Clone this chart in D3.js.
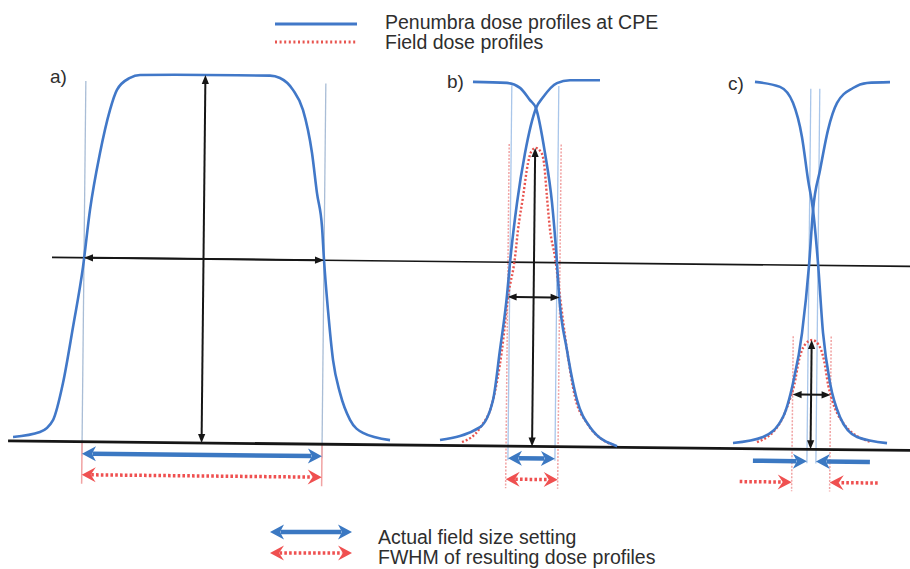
<!DOCTYPE html>
<html>
<head>
<meta charset="utf-8">
<script src="https://cdn.jsdelivr.net/npm/d3@7"></script>
<style>
  html, body { margin: 0; padding: 0; background: #fff; }
  svg { display: block; }
  text { font-family: "Liberation Sans", Arial, sans-serif; fill: #2e2e2e; }
</style>
</head>
<body>
<svg id="chart" width="910" height="569"></svg>
<script>
// Lateral position across the beam (mm) vs relative dose (% of open-field maximum)

// a) large field: both penumbrae fully separated
const profileA = [[1.49,1.1],[4.18,2.5],[5.47,5.8],[6.43,15.9],[7.37,31.1],[8.31,47.5],[8.95,63.0],
  [9.89,78.5],[10.84,90.2],[11.52,95.7],[12.81,99.0],[13.81,99.8],[20.31,100],[26.81,100],[27.81,99.4],
  [29.12,96.2],[30.14,90.8],[31.09,79.1],[31.63,68.2],[32.17,59.0],[32.40,50.1],[32.85,36.5],[33.41,22.9],
  [34.14,14.0],[35.17,6.7],[36.48,3.2],[39.19,1.3]];

// b) small field: penumbra of each jaw at CPE, and the resulting field profile
const penumbraB_rise = [[44.19,1.5],[48.18,5.1],[49.45,12.5],[50.09,26.1],[50.74,41.1],[51.00,49.8],
  [51.64,66.1],[52.39,79.7],[53.44,91.9],[54.13,94.9],[55.51,98.8],[56.81,99.6],[59.81,99.7]];
const penumbraB_fall = [[47.11,98.9],[50.51,98.7],[51.82,97.4],[52.83,94.1],[53.44,91.9],[54.39,79.7],
  [55.14,66.3],[55.70,49.9],[55.94,41.2],[56.79,26.3],[57.85,12.7],[59.18,5.4],[61.90,0.3]];
const fieldB = [[46.39,1.0],[48.18,4.9],[49.45,12.5],[50.29,26.1],[50.84,40.5],[51.50,51.4],[51.77,58.8],
  [52.23,67.7],[52.70,77.0],[52.99,80.0],[53.45,81.1],[53.99,80.0],[54.30,77.0],[54.63,67.8],[54.97,58.9],
  [55.50,51.5],[56.04,40.7],[56.79,26.3],[57.64,13.6],[58.87,6.5],[60.49,1.9],[61.70,0.6]];

// c) very small field: jaws closer than the penumbra width
const penumbraC_rise = [[73.49,1.5],[76.49,3.2],[78.46,8.7],[79.43,18.0],[80.28,31.6],[80.91,50.1],
  [81.25,65.0],[81.91,75.9],[82.66,86.8],[83.54,94.2],[85.12,98.3],[86.51,99.7],[88.81,100]];
const penumbraC_fall = [[75.31,99.7],[77.82,98.4],[79.13,94.1],[80.07,84.8],[80.72,73.2],[81.25,65.0],
  [81.80,50.7],[82.38,31.6],[83.13,18.1],[84.16,8.9],[85.89,3.5],[88.89,1.9]];
const fieldC = [[75.89,1.8],[78.17,7.1],[79.10,13.3],[79.55,17.4],[80.00,24.2],[80.55,28.3],[81.30,29.7],
  [81.95,28.4],[82.50,24.3],[82.95,17.5],[83.35,13.5],[84.47,7.3],[87.19,2.2]];

const panelLabels = ["a)", "b)", "c)"];
const fieldSetting = [[8.4, 32.4], [51.0, 55.7], [80.9, 81.8]];   // jaw (50 %) positions, mm
const fieldFWHM    = [[8.4, 32.4], [50.8, 56.0], [79.4, 83.2]];   // FWHM of the field profile, mm
const peakDose     = [100, 81.1, 29.7];                            // central-axis dose, %
const centralAxis  = [20.35, 53.4, 81.25];                         // mm

const profileLegend = ["Penumbra dose profiles at CPE", "Field dose profiles"];
const arrowLegend   = ["Actual field size setting", "FWHM of resulting dose profiles"];

// ---------------------------------------------------------------------------
const BLUE = "#4178c8", BLUE_ARROW = "#3b78c2", RED = "#e8544f", RED_ARROW = "#ef5050";
const BLACK = "#161616";

const svg = d3.select("#chart");
const x = d3.scaleLinear().domain([0, 91]).range([0, 910]);
const y = d3.scaleLinear().domain([0, 100]).range([445.6, 77.6]);
const line = d3.line().x(d => x(d[0])).y(d => y(d[1])).curve(d3.curveMonotoneX);

// Arrow with optional heads at each end (notched heads when notch > 0)
function arrow(sel, x1, y1, x2, y2, o) {
  const dx = x2 - x1, dy = y2 - y1, L = Math.hypot(dx, dy);
  const ux = dx / L, uy = dy / L;
  const back = o.len - o.notch + (o.notch ? 0.5 : -1);
  const a = o.start ? [x1 + ux * back, y1 + uy * back] : [x1, y1];
  const b = o.end ? [x2 - ux * back, y2 - uy * back] : [x2, y2];
  sel.append("line")
    .attr("x1", a[0]).attr("y1", a[1]).attr("x2", b[0]).attr("y2", b[1])
    .attr("stroke", o.color).attr("stroke-width", o.width)
    .attr("stroke-dasharray", o.dash || null);
  const head = (tx, ty, vx, vy) => {
    const px = -vy, py = vx;
    const bx = tx - vx * o.len, by = ty - vy * o.len;
    const nx = tx - vx * (o.len - o.notch), ny = ty - vy * (o.len - o.notch);
    sel.append("path")
      .attr("d", `M${tx},${ty}L${bx + px * o.half},${by + py * o.half}L${nx},${ny}L${bx - px * o.half},${by - py * o.half}Z`)
      .attr("fill", o.headColor || o.color);
  };
  if (o.end) head(x2, y2, ux, uy);
  if (o.start) head(x1, y1, -ux, -uy);
}

const blackStyle = { color: BLACK, width: 2, len: 9, half: 3.6, notch: 0 };
const blueStyle  = { color: BLUE_ARROW, width: 4.5, len: 14, half: 7.5, notch: 4 };
const redStyle   = { color: RED_ARROW, width: 3.5, dash: "2.6,2.2", len: 14, half: 7.5, notch: 5 };

// ---------------------------------------------------------------------------
// Plot area (very slightly tilted)
const plot = svg.append("g").attr("transform", "rotate(0.6,455,260)");
const y0 = y(0);
const blueRow = y0 + 12, redRow = y0 + 33;

// thin guide lines at the jaw edges and at the FWHM edges
fieldSetting.forEach((s, i) => {
  s.forEach(v => {
    plot.append("line").attr("x1", x(v)).attr("x2", x(v))
      .attr("y1", y(98)).attr("y2", y0 + 14)
      .attr("stroke", i === 0 ? "#a9bdd6" : "#a9c6ea").attr("stroke-width", 1.3);
  });
});
fieldFWHM.forEach((s, i) => {
  s.forEach(v => {
    plot.append("line").attr("x1", x(v)).attr("x2", x(v))
      .attr("y1", i === 0 ? y0 : y(peakDose[i] + 1)).attr("y2", y0 + 42)
      .attr("stroke", "#f1a3a3").attr("stroke-width", 1.5)
      .attr("stroke-dasharray", i === 0 ? null : "2,1.5");
  });
});

// reference lines: 50 % level and zero dose
plot.append("line").attr("x1", x(5.2)).attr("x2", x(92)).attr("y1", y(50)).attr("y2", y(50))
  .attr("stroke", BLACK).attr("stroke-width", 1.6);
plot.append("line").attr("x1", x(1.0)).attr("x2", x(92)).attr("y1", y0).attr("y2", y0)
  .attr("stroke", BLACK).attr("stroke-width", 2.8);

// field dose profiles (dotted red)
[fieldB, fieldC].forEach(d => {
  plot.append("path").attr("d", line(d)).attr("fill", "none")
    .attr("stroke", RED).attr("stroke-width", 2.4).attr("stroke-dasharray", "2,2");
});

// penumbra dose profiles at CPE (blue)
[profileA, penumbraB_rise, penumbraB_fall, penumbraC_rise, penumbraC_fall].forEach(d => {
  plot.append("path").attr("d", line(d)).attr("fill", "none")
    .attr("stroke", BLUE).attr("stroke-width", 2.6).attr("stroke-linejoin", "round");
});

// black arrows: central-axis dose and FWHM at half maximum
peakDose.forEach((p, i) => {
  arrow(plot, x(centralAxis[i]), y(p), x(centralAxis[i]), y0, { ...blackStyle, start: true, end: true });
  arrow(plot, x(fieldFWHM[i][0]), y(p / 2), x(fieldFWHM[i][1]), y(p / 2), { ...blackStyle, start: true, end: true });
});

// field size setting (blue) and FWHM (red) below the axis
const inward = 5.4; // arrow length (mm) when the field is too small for a double arrow
fieldSetting.forEach((s, i) => {
  if (i < 2) {
    arrow(plot, x(s[0]), blueRow, x(s[1]), blueRow, { ...blueStyle, start: true, end: true });
  } else {
    arrow(plot, x(s[0] - inward), blueRow, x(s[0]), blueRow, { ...blueStyle, end: true });
    arrow(plot, x(s[1] + inward), blueRow, x(s[1]), blueRow, { ...blueStyle, end: true });
  }
});
fieldFWHM.forEach((s, i) => {
  if (i < 2) {
    arrow(plot, x(s[0]), redRow, x(s[1]), redRow, { ...redStyle, start: true, end: true });
  } else {
    arrow(plot, x(s[0] - inward + 0.2), redRow, x(s[0]), redRow, { ...redStyle, end: true });
    arrow(plot, x(s[1] + inward - 0.6), redRow, x(s[1]), redRow, { ...redStyle, end: true });
  }
});

// panel letters
const labelPos = [[50, 83], [447, 88], [728, 90]];
panelLabels.forEach((t, i) => {
  svg.append("text").attr("x", labelPos[i][0]).attr("y", labelPos[i][1])
    .attr("font-size", 19).text(t);
});

// ---------------------------------------------------------------------------
// legends
const legendTop = svg.append("g");
legendTop.append("line").attr("x1", 275).attr("x2", 357).attr("y1", 24).attr("y2", 24)
  .attr("stroke", BLUE).attr("stroke-width", 3);
legendTop.append("line").attr("x1", 275).attr("x2", 357).attr("y1", 42).attr("y2", 42)
  .attr("stroke", RED).attr("stroke-width", 3).attr("stroke-dasharray", "2,2.6");
profileLegend.forEach((t, i) => {
  legendTop.append("text").attr("x", 385).attr("y", 29 + i * 20).attr("font-size", 19.5).text(t);
});

const legendBottom = svg.append("g");
arrow(legendBottom, 270, 532, 352, 532, { ...blueStyle, start: true, end: true });
arrow(legendBottom, 270, 553, 352, 553, { ...redStyle, start: true, end: true });
arrowLegend.forEach((t, i) => {
  legendBottom.append("text").attr("x", 378).attr("y", 544 + i * 20).attr("font-size", 19.5).text(t);
});
</script>
</body>
</html>
